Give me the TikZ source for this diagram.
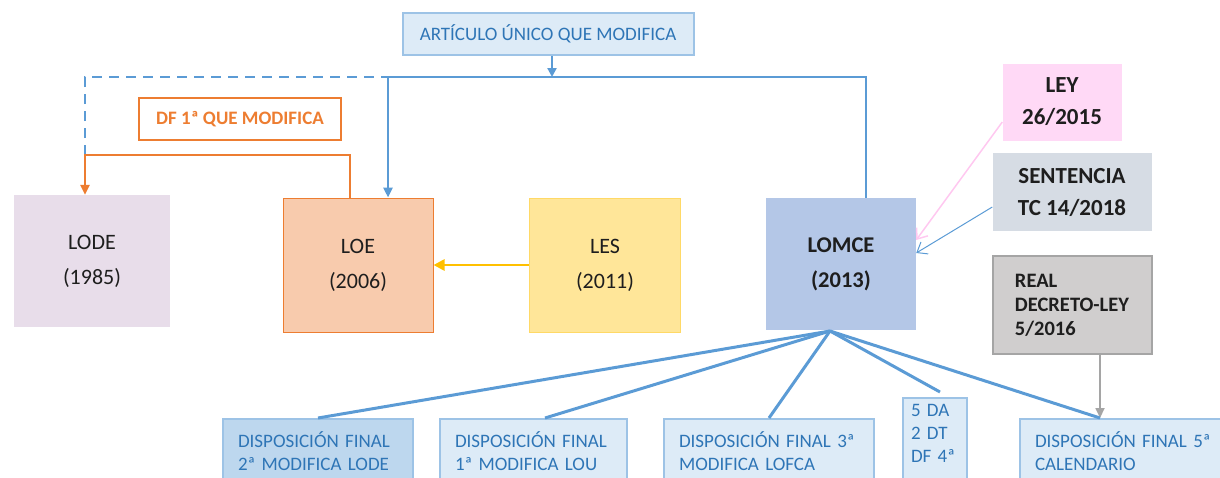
\documentclass[tikz,border=0pt]{standalone}
\usepackage{fontspec}
\setmainfont{Carlito}
\usetikzlibrary{arrows.meta}
\definecolor{lodefill}{HTML}{E8DDEA}
\definecolor{loefill}{HTML}{F8CBAD}
\definecolor{orangeline}{HTML}{ED7D31}
\definecolor{lesfill}{HTML}{FFE699}
\definecolor{lesline}{HTML}{FFD966}
\definecolor{amber}{HTML}{FFC000}
\definecolor{lomcefill}{HTML}{B4C7E7}
\definecolor{paleblue}{HTML}{DDEBF7}
\definecolor{midblue}{HTML}{BDD7EE}
\definecolor{boxline}{HTML}{9DC3E6}
\definecolor{linkblue}{HTML}{5B9BD5}
\definecolor{textblue}{HTML}{2E75B6}
\definecolor{leyfill}{HTML}{FFD9F6}
\definecolor{pinkline}{HTML}{FFC8F0}
\definecolor{stcfill}{HTML}{D6DCE4}
\definecolor{rdlfill}{HTML}{D0CECE}
\definecolor{rdlline}{HTML}{A5A5A5}
\definecolor{ink}{HTML}{1E1E1E}
\begin{document}
\begin{tikzpicture}[x=1pt, y=-1pt,
	law/.style={inner sep=0pt, align=center, text=ink, font=\fontsize{22}{35}\selectfont},
	boldlaw/.style={inner sep=0pt, align=center, text=ink, font=\bfseries\fontsize{23}{32}\selectfont},
	dfbox/.style={anchor=north west, fill=paleblue, draw=boxline, line width=2pt, inner xsep=15pt, inner ysep=13pt, align=left, text=textblue, font=\fontsize{19}{23}\selectfont},
	fan/.style={draw=linkblue, line width=3pt},
	link/.style={draw=linkblue, line width=2.6pt}]
	\useasboundingbox (0,0) rectangle (1220,477);
	\clip (0,0) rectangle (1220,477);
	\node[fill=paleblue, draw=boxline, line width=2pt, minimum width=291, minimum height=42, inner sep=0pt, text=textblue, font=\fontsize{19}{23}\selectfont] (0) at (548, 34) {ARTÍCULO ÚNICO QUE MODIFICA};
	\node[draw=orangeline, line width=2pt, minimum width=202, minimum height=42, inner sep=0pt, text=orangeline, font=\bfseries\fontsize{19}{22}\selectfont] (1) at (240, 119) {DF 1ª QUE MODIFICA};
	\node[law, fill=lodefill, minimum width=156, minimum height=132] (2) at (92, 261) {LODE\\(1985)};
	\node[law, fill=loefill, draw=orangeline, line width=1pt, minimum width=150, minimum height=134] (3) at (358, 265) {LOE\\(2006)};
	\node[law, fill=lesfill, draw=lesline, line width=1pt, minimum width=151, minimum height=134] (4) at (605, 265) {LES\\(2011)};
	\node[boldlaw, fill=lomcefill, minimum width=150, minimum height=132, font=\bfseries\fontsize{22.5}{35}\selectfont] (5) at (841, 264) {LOMCE\\(2013)};
	\node[boldlaw, fill=leyfill, minimum width=119, minimum height=77] (6) at (1062, 102) {LEY\\26/2015};
	\node[boldlaw, fill=stcfill, minimum width=159, minimum height=78] (7) at (1072, 192) {SENTENCIA\\TC 14/2018};
	\node[boldlaw, align=left, fill=rdlfill, draw=rdlline, line width=2pt, minimum width=159, minimum height=98, font=\bfseries\fontsize{20.5}{24}\selectfont] (8) at (1072, 305) {REAL\\DECRETO-LEY\\5/2016};
	\node[dfbox, fill=midblue, text width=160] (9) at (222, 418) {DISPOSICIÓN FINAL\\2ª MODIFICA LODE\\\mbox{}};
	\node[dfbox, text width=157] (10) at (439, 418) {DISPOSICIÓN FINAL\\1ª MODIFICA LOU\\\mbox{}};
	\node[dfbox, text width=180] (11) at (663, 418) {DISPOSICIÓN FINAL 3ª\\MODIFICA LOFCA\\\mbox{}};
	\node[dfbox, inner xsep=8pt, inner ysep=6pt, text width=48] (12) at (902, 397) {5 DA\\2 DT\\DF 4ª\\\mbox{}\\\mbox{}};
	\node[dfbox, text width=190] (13) at (1019, 418) {DISPOSICIÓN FINAL 5ª\\CALENDARIO\\\mbox{}};
	\coordinate (14) at (552, 77);
	\coordinate (15) at (85, 77);
	\coordinate (16) at (388, 77);
	\coordinate (17) at (866, 77);
	\coordinate (18) at (85, 155);
	\coordinate (19) at (350, 155);
	\coordinate (20) at (830, 331);
	\coordinate (21) at (940, 392);
	\coordinate (22) at (1100, 418);
	\coordinate (23) at (545, 418);
	\draw[link, -{Triangle[length=9pt, width=9pt]}] (0.south -| 14) to (14);
	\draw[link, dashed, dash pattern=on 10pt off 7pt] (18) to (15) to (16);
	\draw[link] (16) to (17) to (5.north -| 17);
	\draw[link, -{Triangle[length=10pt, width=9pt]}] (16) to (3.north -| 16);
	\draw[draw=orangeline, line width=2.6pt, -{Triangle[length=10pt, width=9pt]}] (3.north -| 19) to (19) to (18) to (2.north -| 18);
	\draw[draw=amber, line width=2.6pt, -{Triangle[length=11pt, width=11pt]}] (4) to (3);
	\draw[draw=pinkline, line width=1.5pt, -{Straight Barb[length=9pt, width=14pt]}] (6.west |- 0,122) to (5.east |- 0,240);
	\draw[draw=linkblue, line width=1pt, -{Straight Barb[length=9pt, width=14pt]}] (7.west |- 0,207) to (5.east |- 0,253);
	\draw[draw=rdlline, line width=1.8pt, -{Triangle[length=10pt, width=9pt]}] (8.south -| 22) to (22);
	\draw[fan] (20) to (9.north);
	\draw[fan] (20) to (23);
	\draw[fan] (20) to (11.north);
	\draw[fan] (20) to (21);
	\draw[fan] (20) to (22);
\end{tikzpicture}
\end{document}
